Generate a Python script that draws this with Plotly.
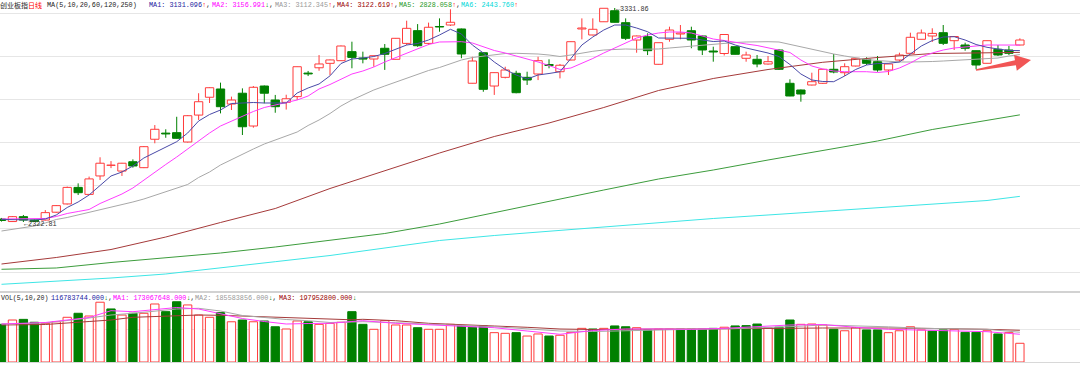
import plotly.graph_objects as go

W, H = 1080, 366

# ---------------- data ----------------
idx = list(range(94))

open_ = [2337, 2325, 2348, 2332, 2332, 2369, 2408, 2486, 2453, 2540,
         2590, 2563, 2607, 2579, 2713, 2742, 2744, 2700, 2827, 2911,
         2950, 2879, 2930, 2775.5, 2964, 2898, 2887, 2914, 3025, 3050,
         3071, 3083.4, 3126, 3096, 3091.4, 3142, 3090, 3165, 3225, 3165,
         3244.7, 3251.7, 3233, 2977, 3121, 2964, 3005, 3024, 3005, 3020.7,
         3065.5, 3031.5, 3086.7, 3233, 3204.6, 3267, 3319, 3262.6, 3181, 3196.6,
         3066.4, 3184.3, 3209.3, 3224.8, 3200, 3129, 3117.3, 3149.4, 3094.7, 3090,
         3067.8, 3133.8, 2976.8, 2945.2, 2968.8, 2976.8, 3042.9, 3026.8, 3058.4, 3090,
         3078.7, 3039.6, 3086.7, 3118.3, 3184.3, 3199.9, 3215.4, 3177.7, 3157.4, 3130.6,
         3071.1, 3137.2, 3133.8, 3157.4]

high = [2342, 2351, 2356, 2335, 2379, 2403, 2490, 2505, 2537, 2628,
        2610, 2601.5, 2618, 2681, 2780, 2760, 2819, 2827, 2930, 2958,
        2980, 2914, 2953, 2964, 2966.5, 2922, 2923, 3056, 3035, 3110,
        3089, 3155, 3173, 3126, 3108, 3162, 3190.4, 3272, 3256, 3263,
        3283, 3325.8, 3235, 3102, 3122, 3028, 3055, 3036, 3031.5, 3102,
        3090, 3068, 3174, 3283, 3283, 3330.8, 3331.86, 3283, 3202, 3212.6,
        3169, 3243.7, 3251.7, 3243.7, 3202, 3149.4, 3207.5, 3150.4, 3125.8, 3110.3,
        3105.6, 3137.2, 2995.7, 2947.6, 3026.8, 3044.3, 3115, 3071.1, 3096.1, 3099.4,
        3105.6, 3070.2, 3121.1, 3215.4, 3230.5, 3236.2, 3251.7, 3199.9, 3168.3, 3131.5,
        3178.6, 3157.4, 3152.7, 3189]

low = [2325, 2323.5, 2322.81, 2324, 2330, 2366, 2405, 2450, 2452, 2521,
       2577, 2540, 2579, 2577, 2694, 2720, 2716, 2697.5, 2804, 2884,
       2835, 2851, 2733, 2767.5, 2882.5, 2838, 2853, 2898, 3011, 3036,
       3016, 3082, 3047.6, 3071, 3055, 3040, 3089, 3157, 3149, 3157,
       3220, 3247, 3095, 2976, 2937, 2922, 3000, 2929.7, 2969, 2992,
       3047.6, 3000, 3085, 3184, 3203, 3266, 3263.5, 3181, 3121, 3110,
       3065.5, 3173, 3184.3, 3142, 3110, 3078.7, 3108, 3112.6, 3078.7, 3052.3,
       3065, 3039.6, 2916, 2890.1, 2966.5, 2973.5, 3024, 3011.3, 3056.1, 3063.1,
       3031.5, 3016, 3078.7, 3117.3, 3183.4, 3171.6, 3157.4, 3133.8, 3130.6, 3042.9,
       3070.2, 3105.6, 3110.3, 3156]

close = [2330, 2348, 2332, 2326, 2367, 2400, 2486, 2461, 2526, 2600,
         2591, 2600, 2587, 2678, 2760, 2738, 2717.5, 2824, 2890, 2956,
         2866.5, 2898, 2772, 2958, 2930, 2866.5, 2904, 3055, 3021, 3068,
         3087, 3152.7, 3099, 3091, 3107, 3113.6, 3189, 3236, 3154, 3241,
         3242.3, 3264.5, 3115, 3082, 2948.5, 3027, 3039.6, 2932.5, 2992.4, 3083.4,
         3060.8, 3062, 3173, 3237.6, 3231.5, 3330.5, 3264.5, 3189, 3200, 3130.6,
         3168.3, 3228, 3214, 3181, 3133.8, 3124.4, 3206.9, 3113.6, 3110.3, 3067.8,
         3078.7, 3042.9, 2917, 2926.4, 2984.4, 3042.9, 3030.1, 3055.1, 3094.7, 3071.1,
         3039.6, 3067.8, 3110.3, 3193.7, 3214, 3212.1, 3165.4, 3197.5, 3141.9, 3063.1,
         3177.7, 3110.3, 3118.3, 3181]

# volume in millions
vol_mln = [235, 262, 266, 248, 241, 251, 279, 304, 287, 373,
           331, 293, 304, 304, 362, 314, 376, 356, 293, 279,
           308, 251, 262, 251, 256, 220, 206, 256, 251, 235,
           241, 248, 314, 235, 204, 258, 231, 231, 214, 204,
           204, 235, 225, 217, 225, 183, 179, 183, 162, 175,
           162, 167, 185, 210, 206, 210, 225, 220, 214, 200,
           204, 204, 204, 204, 204, 210, 217, 225, 227, 237,
           214, 217, 262, 235, 237, 231, 204, 195, 214, 200,
           200, 183, 195, 220, 200, 193, 200, 204, 185, 185,
           195, 175, 183, 116.78]

ma5 = [2334.7, 2334.7, 2333.2, 2332.3, 2337, 2355.9, 2391.2, 2417.2, 2450.2, 2497.3,
       2539.8, 2558.6, 2586.9, 2624.6, 2650.6, 2676.5, 2701.5, 2742.5, 2799.1, 2829.7,
       2850.9, 2881.6, 2884, 2886.3, 2884, 2882.5, 2884, 2931.1, 2954.7, 2973.5,
       3012, 3070, 3091.4, 3096.1, 3103.2, 3117.3, 3136.2, 3157.4, 3164.5, 3181,
       3204.6, 3231.5, 3209.3, 3157.4, 3119.7, 3077.3, 3041.9, 3016, 2997.1, 3016,
       3023, 3031.5, 3093.8, 3157.4, 3195.1, 3228.1, 3251.7, 3251.7, 3237.6, 3220.1,
       3190.4, 3189, 3189, 3189, 3181, 3173.9, 3176.3, 3157.4, 3143.3, 3131.5,
       3119.7, 3103.2, 3065.5, 3020.7, 2992.4, 2985.3, 2984.4, 3011.3, 3041.9, 3063.1,
       3070.2, 3071.1, 3077.3, 3115, 3152.7, 3178.6, 3195.1, 3196.6, 3181, 3159.8,
       3146.6, 3138.6, 3131.5, 3131.096]

ma10 = [2337, 2337, 2337, 2337, 2339.4, 2348.8, 2363, 2372.4, 2381.8, 2410.1,
        2431.3, 2454.9, 2483.2, 2520.9, 2558.6, 2594, 2629.3, 2667.1, 2704.8, 2742.5,
        2775.5, 2799.1, 2822.7, 2843.9, 2862.7, 2874.5, 2884, 2898.1, 2917, 2950,
        2971.2, 2997.1, 3020.7, 3034.8, 3053.7, 3077.3, 3098.5, 3119.7, 3140.9, 3159.8,
        3171.6, 3173, 3173, 3166.9, 3148, 3131.5, 3119.7, 3105.6, 3094.7, 3077.3,
        3060.8, 3041.9, 3049, 3070.2, 3093.8, 3119.7, 3143.3, 3169.2, 3190.4, 3204.6,
        3214, 3218.7, 3218.7, 3214, 3199.9, 3185.7, 3178.6, 3169.2, 3162.1, 3155.1,
        3143.3, 3133.8, 3122.1, 3086.7, 3058.4, 3044.3, 3034.8, 3031.5, 3031.5, 3031.5,
        3027.8, 3032.5, 3049, 3072.6, 3100.8, 3119.7, 3133.8, 3143.3, 3148, 3152.7,
        3157.4, 3157.4, 3157.4, 3156.991]

ma20 = [2280.4, 2287.5, 2294.6, 2304, 2318.2, 2334.7, 2344.1, 2355.9, 2367.7, 2379.4,
        2391.2, 2405.4, 2417.2, 2431.3, 2447.8, 2466.7, 2483.2, 2499.7, 2532.7, 2558.6,
        2591.6, 2617.6, 2643.5, 2667.1, 2690.6, 2709.5, 2728.4, 2747.2, 2777.9, 2803.8,
        2834.4, 2869.8, 2898.1, 2921.7, 2945.2, 2964.1, 2983, 3001.8, 3020.7, 3037.2,
        3051.3, 3067.8, 3086.7, 3098.5, 3105.6, 3112.6, 3117.3, 3118.3, 3117.3, 3115,
        3110.3, 3103.2, 3110.3, 3119.7, 3127.7, 3133.8, 3137.2, 3138.6, 3137.2, 3137.2,
        3138.6, 3143.3, 3148, 3152.7, 3157.4, 3162.1, 3166.9, 3169.2, 3171.6, 3173,
        3173, 3171.6, 3159.8, 3148, 3138.6, 3126.8, 3115, 3105.6, 3096.1, 3089.1,
        3084.3, 3079.6, 3077.3, 3077.3, 3077.3, 3079.6, 3082, 3084.3, 3086.7, 3090,
        3092.8, 3096.1, 3105.6, 3112.345]

long_idx = [0, 5, 10, 15, 20, 25, 30, 35, 40, 45, 50, 55, 60, 65, 70, 75, 80, 85, 90, 93]
ma60 = [2124.8, 2155.5, 2193.2, 2252.1, 2320.5, 2386.5, 2480.8, 2563.3, 2648.2, 2726,
        2789.7, 2862.7, 2942.9, 2999.5, 3041.9, 3075.9, 3098.5, 3117.3, 3119, 3122.619]
ma120 = [2099.9, 2106, 2131.9, 2153.1, 2176.7, 2205, 2238, 2268.6, 2313.4, 2367.7,
         2421.9, 2473.7, 2525.6, 2568, 2615.2, 2660, 2704.8, 2759, 2803.8, 2828.058]
ma250 = [2029.1, 2042.3, 2058.8, 2077.7, 2108.3, 2135.7, 2164.9, 2200.3, 2235.6, 2259.2,
         2279, 2299.3, 2320.5, 2339.4, 2355.9, 2372.4, 2388.9, 2405.4, 2424.2, 2443.76]

vol_ma_idx = [0, 4, 8, 10, 12, 16, 18, 20, 22, 24, 26, 28, 30, 32, 33, 36, 39, 42, 45, 48,
              51, 54, 57, 60, 63, 66, 69, 72, 75, 78, 81, 84, 87, 90, 93]
vol_ma5 = [237.1, 246.5, 277.7, 320.1, 313.9, 340.1, 330.7, 302.6, 271.4, 252.7,
           237.1, 240.2, 241.5, 252.7, 257.7, 241.5, 230.9, 220.3, 214, 193.4,
           172.8, 196.6, 205.9, 205.9, 204, 210.3, 221.5, 230.9, 234, 216.5,
           204, 199.7, 195.3, 189.1, 173.068]
vol_ma10 = [237.1, 243.4, 274.6, 293.3, 303.9, 330.7, 335.1, 318.2, 290.2, 277.7,
            265.2, 257.7, 246.5, 249.6, 251.5, 245.2, 235.2, 227.8, 220.3, 209,
            193.4, 190.3, 195.3, 202.8, 204, 205.9, 212.2, 220.3, 230.9, 226.5,
            219.6, 210.3, 205.9, 204, 185.584]
vol_ma20 = [230.9, 234, 252.7, 262.1, 278.9, 290.2, 293.3, 291.4, 287, 282.7,
            277.7, 272.7, 266.4, 263.3, 266.4, 257.7, 241.5, 235.2, 224.6, 216.5,
            205.9, 202.8, 205.9, 205.9, 205.9, 205.9, 207.8, 210.3, 212.2, 214,
            212.2, 210.3, 207.8, 204, 197.953]

# ---------------- styling ----------------
RED = "#ff3b3b"
GREEN = "#008000"
C_MA5, C_MA10, C_MA20 = "#4a4aa8", "#ff3cff", "#a8a8a8"
C_MA60, C_MA120, C_MA250 = "#a53a3a", "#3c9c3c", "#3ee6e6"
MONO = "Liberation Mono, DejaVu Sans Mono, monospace"
CJK = "Noto Sans CJK SC, sans-serif"
FS = 6.8


def py(p):  # pixel row -> paper fraction
    return 1 - p / H


def px(p):
    return p / W


fig = go.Figure()

up = [c >= o for o, c in zip(open_, close)]
body_base = [min(o, c) for o, c in zip(open_, close)]
body_h = [max(abs(c - o), 0.3) for o, c in zip(open_, close)]

# wicks (split so they do not cross hollow bodies)
rx, ry, gx, gy = [], [], [], []
for i in idx:
    top = max(open_[i], close[i])
    bot = min(open_[i], close[i])
    xs, ys = (rx, ry) if up[i] else (gx, gy)
    if high[i] > top:
        xs += [i, i, None]
        ys += [top, high[i], None]
    if low[i] < bot:
        xs += [i, i, None]
        ys += [low[i], bot, None]

fig.add_trace(go.Bar(x=idx, y=body_h, base=body_base, width=0.76,
                     marker=dict(color=["#ffffff" if u else GREEN for u in up],
                                 line=dict(color=[RED if u else GREEN for u in up], width=1)),
                     xaxis="x", yaxis="y", hoverinfo="skip"))
fig.add_trace(go.Scatter(x=rx, y=ry, mode="lines", line=dict(color=RED, width=1),
                         xaxis="x", yaxis="y", hoverinfo="skip"))
fig.add_trace(go.Scatter(x=gx, y=gy, mode="lines", line=dict(color=GREEN, width=1),
                         xaxis="x", yaxis="y", hoverinfo="skip"))

for xs, ys, col in [(long_idx, ma250, C_MA250), (long_idx, ma120, C_MA120),
                    (long_idx, ma60, C_MA60), (idx, ma20, C_MA20),
                    (idx, ma10, C_MA10), (idx, ma5, C_MA5)]:
    fig.add_trace(go.Scatter(x=xs, y=ys, mode="lines", line=dict(color=col, width=1),
                             xaxis="x", yaxis="y", hoverinfo="skip"))

# volume bars, coloured by close vs previous close
vup = [up[0]] + [close[i] >= close[i - 1] for i in range(1, len(close))]
fig.add_trace(go.Bar(x=idx, y=vol_mln, width=0.76,
                     marker=dict(color=["#ffffff" if u else GREEN for u in vup],
                                 line=dict(color=[RED if u else GREEN for u in vup], width=1)),
                     xaxis="x2", yaxis="y2", hoverinfo="skip"))
for ys, col in [(vol_ma20, C_MA60), (vol_ma10, C_MA20), (vol_ma5, C_MA10)]:
    fig.add_trace(go.Scatter(x=vol_ma_idx, y=ys, mode="lines", line=dict(color=col, width=1),
                             xaxis="x2", yaxis="y2", hoverinfo="skip"))

# ---------------- annotations ----------------
ann = []


def label(x, y, text, color="#222222", size=FS, family=MONO):
    ann.append(dict(xref="paper", yref="paper", x=px(x), y=py(y), text=text,
                    showarrow=False, xanchor="left", yanchor="middle",
                    borderpad=0, borderwidth=0,
                    font=dict(family=family, size=size, color=color)))


def sp(t, c):
    return f"<span style='color:{c}'>{t}</span>"


UPA, DNA = sp("↑", "#ff0000"), sp("↓", GREEN)

label(0, 5.5, "创业板指", "#1e1e1e", 7, CJK)
label(27.5, 5.5, "日线", "#ff0000", 7, CJK)
label(46.5, 5.5, "MA(5,10,20,60,120,250)")
ma_items = [("MA1: 3131.096", "#1a1aa0", UPA, 148.8),
            ("MA2: 3156.991", "#ff00ff", DNA, 212),
            ("MA3: 3112.345", "#999999", UPA, 274.5),
            ("MA4: 3122.619", "#990000", UPA, 336.5),
            ("MA5: 2828.058", "#1f9a1f", UPA, 398.5),
            ("MA6: 2443.760", "#00d8d8", UPA, 461)]
for k, (t, c, a, x) in enumerate(ma_items):
    label(x, 5.5, sp(t, c) + a + ("," if k < 5 else ""))

label(0.5, 298, "VOL(5,10,20)", size=6.6)
label(51, 298, sp("116783744.000", "#1a1aa0") + DNA + ",")
label(112.5, 298, sp("MA1: 173067648.000", "#ff00ff") + DNA + ",")
label(194.6, 298, sp("MA2: 185583856.000", "#999999") + DNA + ",")
label(279, 298, sp("MA3: 197952800.000", "#990000") + DNA)

# extreme-point labels, anchored on the data
ann.append(dict(xref="x", yref="y", x=56, y=3331.86, text="←3331.86", showarrow=False,
                xanchor="left", yanchor="middle", yshift=-1, borderpad=0,
                font=dict(family=MONO, size=FS, color="#333333")))
ann.append(dict(xref="x", yref="y", x=2, y=2322.81, text="←2322.81", showarrow=False,
                xanchor="left", yanchor="middle", yshift=-1.5, borderpad=0,
                font=dict(family=MONO, size=FS, color="#333333")))

# ---------------- shapes ----------------
shapes = [dict(type="rect", xref="paper", yref="paper", x0=0, x1=1,
               y0=py(293), y1=py(291), fillcolor="#d2d2d2", line=dict(width=0))]

arrow_pts = [(975.9, 69.3), (1015.0, 60.3), (1014.0, 54.9), (1031.0, 60.0),
             (1016.8, 70.7), (1015.9, 65.3), (976.1, 70.7)]
path = "M " + " L ".join(f"{px(a):.5f},{py(b):.5f}" for a, b in arrow_pts) + " Z"
shapes.append(dict(type="path", xref="paper", yref="paper", path=path,
                   fillcolor="#f04646", line=dict(width=0), opacity=0.92))

# ---------------- layout ----------------
xr = [-0.137, 98.49]
fig.update_layout(
    width=W, height=H, margin=dict(l=0, r=0, t=0, b=0),
    paper_bgcolor="white", plot_bgcolor="white",
    showlegend=False, barmode="overlay", hovermode=False,
    xaxis=dict(domain=[0, 1], range=xr, showgrid=False, showticklabels=False,
               zeroline=False, ticks="", anchor="y"),
    xaxis2=dict(domain=[0, 1], range=xr, showgrid=False, showticklabels=False,
                zeroline=False, ticks="", anchor="y2", matches="x"),
    yaxis=dict(domain=[py(292), 1], range=[1992.8, 3369.6], showticklabels=False,
               showgrid=True, gridcolor="#e6e6e6", gridwidth=1, zeroline=False,
               tickmode="linear", tick0=2087.1, dtick=203.5, ticks=""),
    yaxis2=dict(domain=[py(362), py(295)], range=[0, 418.1], showticklabels=False,
                showgrid=True, gridcolor="#e8e8e8", tickvals=[200], ticks="",
                zeroline=True, zerolinecolor="#d8d8d8", zerolinewidth=1),
    annotations=ann, shapes=shapes,
)

fig.write_html("out.html", include_plotlyjs=True, full_html=True,
               config={"displayModeBar": False, "staticPlot": True},
               post_script="document.body.style.margin='0';document.body.style.overflow='hidden';")
